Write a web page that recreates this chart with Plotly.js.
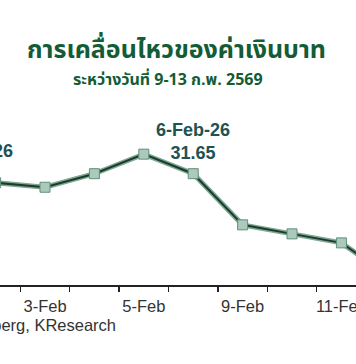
<!DOCTYPE html>
<html>
<head>
<meta charset="utf-8">
<script src="https://cdn.plot.ly/plotly-3.0.1.min.js"></script>
<style>html,body{margin:0;padding:0;background:#fff;}#chart{width:356px;height:364px;}</style>
</head>
<body>
<div id="chart"></div>
<script>
// Data
const dates = ['2-Feb', '3-Feb', '4-Feb', '5-Feb', '6-Feb', '9-Feb', '10-Feb', '11-Feb', '12-Feb'];
const usdthb = [31.59, 31.56, 31.65, 31.78, 31.65, 31.31, 31.25, 31.19, 30.96];
const tickLabels = ['', '3-Feb', '', '5-Feb', '', '9-Feb', '', '11-Feb', ''];
const titleText = 'การเคลื่อนไหวของค่าเงินบาท';
const subtitleText = 'ระหว่างวันที่ 9-13 ก.พ. 2569';
const sourceText = 'Source: Bloomberg, KResearch';
const noteLeft = '30-Jan-26<br>31.60';
const noteMain = '6-Feb-26<br>31.65';

const thaiFont = '"Noto Sans Thai", "Noto Sans Thai Looped", Tahoma, "Noto Sans", sans-serif';
const armFont = 'Arial, "Liberation Sans", sans-serif';

const traces = [
  {x: dates, y: usdthb, type: 'scatter', mode: 'lines',
   line: {color: '#7ea892', width: 5}, hoverinfo: 'skip', showlegend: false},
  {x: dates, y: usdthb, type: 'scatter', mode: 'lines+markers',
   line: {color: '#1d3b2d', width: 2},
   marker: {symbol: 'square', size: 10, color: '#abcabb', line: {color: '#5f8f79', width: 1}},
   showlegend: false}
];

const layout = {
  width: 356, height: 364,
  margin: {l: 0, r: 0, t: 100, b: 79, pad: 0},
  paper_bgcolor: '#ffffff', plot_bgcolor: '#ffffff',
  showlegend: false,
  xaxis: {
    type: 'category', range: [0.089, 7.295],
    tickmode: 'array', tickvals: dates, ticktext: tickLabels, tickangle: 0,
    tickson: 'boundaries', ticks: 'outside', ticklen: 5, tickwidth: 1.3, tickcolor: '#222',
    ticklabelstandoff: 6,
    showline: true, linecolor: '#222', linewidth: 1.5,
    showgrid: false, zeroline: false,
    tickfont: {family: armFont, size: 16.5, color: '#333'}
  },
  yaxis: {
    range: [30.91, 32.14], visible: false, showgrid: false, zeroline: false, fixedrange: true
  },
  annotations: [
    {text: '<b>' + titleText + '</b>', xref: 'paper', yref: 'paper', x: 0.497, y: 1.27,
     xanchor: 'center', yanchor: 'middle', showarrow: false,
     font: {family: thaiFont, size: 25, color: '#135c36'}},
    {text: '<b>' + subtitleText + '</b>', xref: 'paper', yref: 'paper', x: 0.471, y: 1.108,
     xanchor: 'center', yanchor: 'middle', showarrow: false,
     font: {family: thaiFont, size: 16, color: '#135c36'}},
    {text: '<b>' + noteMain + '</b>', xref: 'x', yref: 'paper', x: '6-Feb', y: 0.778,
     xanchor: 'center', yanchor: 'middle', showarrow: false, align: 'center',
     font: {family: armFont, size: 18, color: '#215252'}},
    {text: '<b>' + noteLeft + '</b>', xref: 'paper', yref: 'paper', x: -0.080, y: 0.66,
     xanchor: 'center', yanchor: 'middle', showarrow: false, align: 'center',
     font: {family: armFont, size: 18, color: '#215252'}},
    {text: sourceText, xref: 'paper', yref: 'paper', x: 0.331, y: -0.215,
     xanchor: 'right', yanchor: 'middle', showarrow: false,
     font: {family: armFont, size: 16.5, color: '#333'}}
  ]
};

Plotly.newPlot('chart', traces, layout, {staticPlot: true, displayModeBar: false});
</script>
</body>
</html>
